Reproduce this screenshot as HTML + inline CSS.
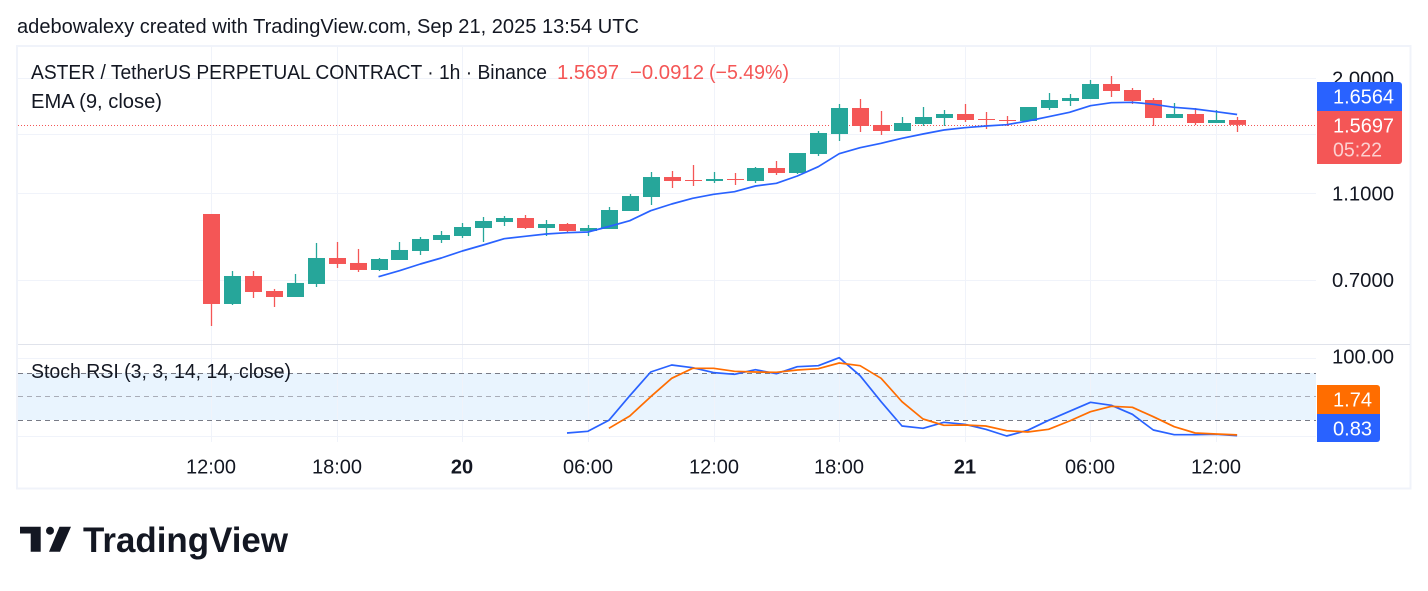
<!DOCTYPE html>
<html lang="en">
<head>
<meta charset="utf-8">
<title>ASTER / TetherUS chart</title>
<style>
html,body{margin:0;padding:0;background:#fff;width:1428px;height:591px;overflow:hidden}
svg{display:block;font-family:"Liberation Sans",sans-serif}
text{fill:#131722;font-size:20px}
</style>
</head>
<body>
<svg id="chart" width="1428" height="591" viewBox="0 0 1428 591" xmlns="http://www.w3.org/2000/svg">
  <rect width="1428" height="591" fill="#ffffff"/>
  <text x="17" y="33" textLength="622" lengthAdjust="spacingAndGlyphs">adebowalexy created with TradingView.com, Sep 21, 2025 13:54 UTC</text>
  <rect x="17" y="46" width="1393.5" height="442.5" fill="#fff" stroke="#f0f3fa" stroke-width="2"/>
  <rect x="18" y="373" width="1298" height="47" fill="#e9f4fe"/>
  <g id="grid"></g>
  <rect x="18" y="344" width="1392" height="1" fill="#e0e3eb"/>
  <g id="bandLines"></g>
  <g id="priceLine"></g>
  <g id="candles"></g>
  <g id="series"></g>
  <g id="yLabels"></g>
  <g id="xLabels"></g>

  <text x="31" y="79" textLength="516" lengthAdjust="spacingAndGlyphs">ASTER / TetherUS PERPETUAL CONTRACT · 1h · Binance</text>
  <text x="557" y="79" textLength="62" lengthAdjust="spacingAndGlyphs" style="fill:#f45656">1.5697</text>
  <text x="630" y="79" textLength="74" lengthAdjust="spacingAndGlyphs" style="fill:#f45656">−0.0912</text>
  <text x="709" y="79" textLength="80" lengthAdjust="spacingAndGlyphs" style="fill:#f45656">(−5.49%)</text>
  <text x="31" y="108" textLength="131" lengthAdjust="spacingAndGlyphs">EMA (9, close)</text>
  <text x="31" y="378" textLength="260" lengthAdjust="spacingAndGlyphs">Stoch RSI (3, 3, 14, 14, close)</text>

  <path d="M1317 82H1399a3 3 0 0 1 3 3V111H1317Z" fill="#2962ff"/>
  <path d="M1317 111H1402V161a3 3 0 0 1 -3 3H1317Z" fill="#f45656"/>
  <text x="1333" y="103.5" textLength="61" lengthAdjust="spacingAndGlyphs" style="fill:#fff">1.6564</text>
  <text x="1333" y="132.5" textLength="61" lengthAdjust="spacingAndGlyphs" style="fill:#fff">1.5697</text>
  <text x="1333" y="156.5" textLength="49" lengthAdjust="spacingAndGlyphs" style="fill:#fff;fill-opacity:.72">05:22</text>
  <path d="M1317 385H1377a3 3 0 0 1 3 3V414H1317Z" fill="#ff6d00"/>
  <path d="M1317 414H1380V439a3 3 0 0 1 -3 3H1317Z" fill="#2962ff"/>
  <text x="1333" y="406.5" textLength="39" lengthAdjust="spacingAndGlyphs" style="fill:#fff">1.74</text>
  <text x="1333" y="435.5" textLength="39" lengthAdjust="spacingAndGlyphs" style="fill:#fff">0.83</text>

  <g>
    <path d="M20 526.7H40.7V551.7H30.7V533.5H20Z" fill="#131722"/>
    <circle cx="50" cy="530.7" r="4" fill="#131722"/>
    <path d="M59.5 526.7H71L60 551.7H49Z" fill="#131722"/>
    <text x="83" y="552" textLength="205" lengthAdjust="spacingAndGlyphs" style="font-size:35px;font-weight:700;fill:#131722">TradingView</text>
  </g>
</svg>
<script>
// Candle values (hourly, first candle = 12:00 on the 19th)
const opens  = [.9876,.6185,.7154,.6617,.6414,.6863,.7856,.7655,.7381,.7775,.8147,.8627,.8808,.9182,.9473,.9672,.9182,.9375,.9040,.9135,1.0031,1.0788,1.1970,1.1785,1.1724,1.1847,1.1724,1.2544,1.2222,1.3491,1.4971,1.7138,1.5688,1.5206,1.5770,1.6269,1.6611,1.6185,1.6101,1.6018,1.7138,1.7773,1.7959,1.9416,1.8819,1.7866,1.6269,1.6611,1.5852,1.6101];
const highs  = [.9876,.7342,.7342,.6687,.7229,.8494,.8538,.8233,.7856,.8538,.8763,.9040,.9424,.9723,.9773,.9824,.9572,.9424,.9327,1.0242,1.0958,1.2286,1.2350,1.2741,1.2286,1.2222,1.2609,1.3009,1.3561,1.5206,1.7498,1.7959,1.6872,1.6354,1.7227,1.6960,1.7498,1.6785,1.6439,1.7227,1.8528,1.8432,1.9824,2.0241,1.9016,1.8053,1.7589,1.7138,1.6960,1.6354];
const lows   = [.5516,.6153,.6381,.6089,.6414,.6756,.7458,.7305,.7342,.7775,.7980,.8494,.8717,.8538,.9278,.9135,.8808,.8947,.8808,.9135,1.0031,1.0349,1.1305,1.1423,1.1603,1.1483,1.1603,1.2096,1.2159,1.3352,1.4436,1.5127,1.4893,1.5206,1.5607,1.5607,1.5935,1.5365,1.5607,1.6018,1.6960,1.7317,1.7959,1.8147,1.7498,1.5607,1.6269,1.5688,1.5852,1.5127];
const closes = [.6185,.7154,.6583,.6414,.6899,.7856,.7615,.7381,.7815,.8190,.8672,.8854,.9230,.9523,.9672,.9182,.9375,.9040,.9182,1.0083,1.0844,1.1970,1.1724,1.1724,1.1847,1.1785,1.2544,1.2222,1.3561,1.5049,1.7138,1.5607,1.5206,1.5852,1.6354,1.6611,1.6101,1.6101,1.6018,1.7227,1.7866,1.8053,1.9416,1.8722,1.7773,1.6269,1.6611,1.5852,1.6101,1.5697];

// EMA (9) values, first value at candle 8
const emaStart = 8;
const emaValues = [.7128,.7354,.7615,.7856,.8147,.8406,.8685,.8795,.8900,.8960,.8993,.9254,.9538,1.0046,1.0403,1.0716,1.0941,1.1090,1.1423,1.1585,1.2033,1.2630,1.3512,1.3941,1.4264,1.4640,1.4971,1.5285,1.5469,1.5607,1.5712,1.6018,1.6380,1.6759,1.7344,1.7617,1.7653,1.7471,1.7200,1.7049,1.6811,1.6564];

// Stoch RSI %K, first value at candle 17
const stochKStart = 17;
const stochK = [4.2,6.3,20.3,51.7,81.8,90.7,87.3,81,78.9,84.7,79.6,88.6,89.8,100,77.1,44,13.1,10.2,17.8,15.3,8.9,0.4,7.6,20.3,31.8,43.3,39.4,28,8,2,2,2.5,0.83];

// Stoch RSI %D, first value at candle 19
const stochDStart = 19;
const stochD = [10.2,25.8,50.4,73.8,86.5,86.5,82.7,81.8,81.4,84.4,86,93.3,89.8,73.8,44,22,14,14.4,13.1,7.1,5.5,8.9,19.5,31.3,38.2,36.9,24.9,12.2,4.2,2.9,1.74];

// Axis ticks
const priceTicks = [2.0, 1.5, 1.1, 0.7];
const oscTicks = [100, 0];
const bandLevels = [80, 50, 20];
const timeTickLabels = ['12:00','18:00','20','06:00','12:00','18:00','21','06:00','12:00'];
const timeTickHours  = [0,6,12,18,24,30,36,42,48];
const boldTimeLabels = ['20','21'];

const SVGNS = 'http://www.w3.org/2000/svg';
const PLOT_LEFT = 18, PLOT_RIGHT = 1316;
const GREEN = '#26a69a', RED = '#f45656';
const xAt = i => 211.5 + 20.94 * i;
const yPrice = v => 78.3 + 192.3 * Math.log(2 / v);
const yOsc = v => 436.3 - 0.786 * v;

function make(tag, parent, attrs) {
  const el = document.createElementNS(SVGNS, tag);
  for (const k in attrs) el.setAttribute(k, attrs[k]);
  parent.appendChild(el);
  return el;
}
const gridG = document.getElementById('grid');
const bandG = document.getElementById('bandLines');
const priceG = document.getElementById('priceLine');
const candleG = document.getElementById('candles');
const seriesG = document.getElementById('series');
const yG = document.getElementById('yLabels');
const xG = document.getElementById('xLabels');

priceTicks.forEach(t => {
  const y = Math.round(yPrice(t)) + 0.5;
  const line = make('line', gridG, {x1: PLOT_LEFT, x2: PLOT_RIGHT, y1: y, y2: y, stroke: '#f0f3fa', 'stroke-width': 1});
  
  
  const label = make('text', yG, {x: 1332, y: yPrice(t) + 7, textLength: 62, lengthAdjust: 'spacingAndGlyphs'});
  label.textContent = t.toFixed(4);
  
  
});

oscTicks.forEach(t => {
  const y = Math.round(yOsc(t)) + 0.5;
  const line = make('line', gridG, {x1: PLOT_LEFT, x2: PLOT_RIGHT, y1: y, y2: y, stroke: '#f0f3fa', 'stroke-width': 1});
  
  
  if (t === 100) {
    const label = make('text', yG, {x: 1332, y: yOsc(t) + 6, textLength: 62, lengthAdjust: 'spacingAndGlyphs'});
    label.textContent = t.toFixed(2);
    
    
  }
});

timeTickHours.forEach((h, k) => {
  const x = Math.floor(xAt(h)) + 0.5;
  const top = make('line', gridG, {x1: x, x2: x, y1: 47, y2: 344, stroke: '#f0f3fa', 'stroke-width': 1});
  
  
  const bottom = make('line', gridG, {x1: x, x2: x, y1: 345, y2: 442, stroke: '#f0f3fa', 'stroke-width': 1});
  
  
  const label = make('text', xG, {x: x - 0.5, y: 473.5, 'text-anchor': 'middle'});
  if (boldTimeLabels.includes(timeTickLabels[k])) label.style.fontWeight = '700';
  label.textContent = timeTickLabels[k];
  
  
});

bandLevels.forEach(level => {
  const y = Math.floor(yOsc(level) - 0.2) + 0.5;
  const line = make('line', bandG, {x1: PLOT_LEFT, x2: PLOT_RIGHT, y1: y, y2: y,
    stroke: level === 50 ? '#a9adb8' : '#787b86', 'stroke-width': 1, 'stroke-dasharray': '5 4'});
  
  
});

const lastY = Math.round(yPrice(closes[closes.length - 1])) + 0.5;
const lastLine = make('line', priceG, {x1: PLOT_LEFT, x2: PLOT_RIGHT, y1: lastY, y2: lastY, stroke: RED, 'stroke-width': 1, 'stroke-dasharray': '1 2'});



closes.forEach((c, i) => {
  const o = opens[i];
  const color = c >= o ? GREEN : RED;
  const left = Math.round(xAt(i) - 8.5);
  const wickX = left + 7.85;
  const wick = make('rect', candleG, {x: wickX, y: yPrice(highs[i]), width: 1.3, height: Math.max(0, yPrice(lows[i]) - yPrice(highs[i])), fill: color});
  
  
  const yTop = yPrice(Math.max(o, c));
  const yBot = yPrice(Math.min(o, c));
  const body = make('rect', candleG, {x: left, y: yTop, width: 17, height: Math.max(1, yBot - yTop), fill: color});
  
  
});

function pointsFor(values, start, yFn) {
  return values.map((v, k) => (xAt(start + k) - 0.5).toFixed(1) + ',' + yFn(v).toFixed(1)).join(' ');
}
const emaLine = make('polyline', seriesG, {points: pointsFor(emaValues, emaStart, yPrice), fill: 'none', stroke: '#2962ff', 'stroke-width': 1.7, 'stroke-linejoin': 'round'});


const kLine = make('polyline', seriesG, {points: pointsFor(stochK, stochKStart, yOsc), fill: 'none', stroke: '#2962ff', 'stroke-width': 1.7, 'stroke-linejoin': 'round'});


const dLine = make('polyline', seriesG, {points: pointsFor(stochD, stochDStart, yOsc), fill: 'none', stroke: '#ff6d00', 'stroke-width': 1.7, 'stroke-linejoin': 'round'});


</script>
</body>
</html>
